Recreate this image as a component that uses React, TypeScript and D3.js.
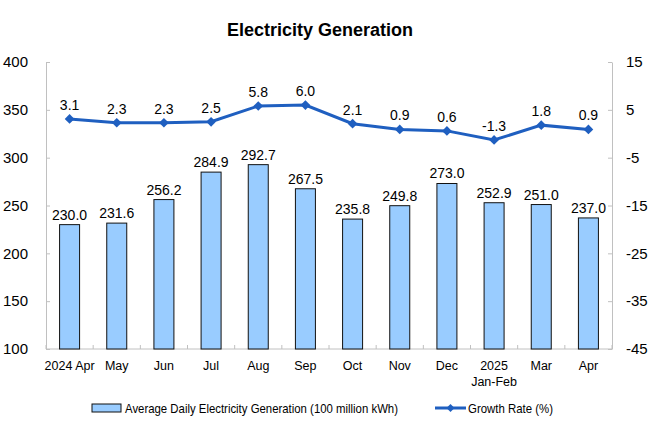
import { useEffect, useRef } from "react";
import * as d3 from "d3";

const categories = ["2024 Apr", "May", "Jun", "Jul", "Aug", "Sep", "Oct", "Nov", "Dec", "2025\nJan-Feb", "Mar", "Apr"];
const generation = [230.0, 231.6, 256.2, 284.9, 292.7, 267.5, 235.8, 249.8, 273.0, 252.9, 251.0, 237.0];
const growth = [3.1, 2.3, 2.3, 2.5, 5.8, 6.0, 2.1, 0.9, 0.6, -1.3, 1.8, 0.9];
const leftTicks = [100, 150, 200, 250, 300, 350, 400];
const rightTicks = [-45, -35, -25, -15, -5, 5, 15];

const FONT = "Arial, 'Liberation Sans', sans-serif";
const LINE_COLOR = "#1f5fc0";
const BAR_FILL = "#99ccff";
const AXIS_COLOR = "#c0c0c0";

export default function App() {
  const svgRef = useRef<SVGSVGElement>(null);

  useEffect(() => {
    if (!svgRef.current) return;
    const svg = d3.select(svgRef.current);
    svg.selectAll("*").remove();

    const left = 46;
    const right = 612;
    const top = 62;
    const bottom = 349;

    const x = d3.scaleBand().domain(categories).range([left, right]).paddingInner(0).paddingOuter(0);
    const yL = d3.scaleLinear().domain([100, 400]).range([bottom, top]);
    const yR = d3.scaleLinear().domain([-45, 15]).range([bottom, top]);
    const cx = (i: number) => x(categories[i])! + x.bandwidth() / 2;

    svg.append("rect").attr("width", 660).attr("height", 440).attr("fill", "white");

    // Title
    svg.append("text")
      .attr("x", 320)
      .attr("y", 36)
      .attr("text-anchor", "middle")
      .attr("font-family", FONT)
      .attr("font-weight", "bold")
      .attr("font-size", 18)
      .text("Electricity Generation");

    // Left axis (ticks point inward)
    const gl = svg.append("g")
      .attr("transform", `translate(${left},0)`)
      .call(d3.axisLeft(yL).tickValues(leftTicks).tickSizeInner(-4).tickSizeOuter(0).tickPadding(18).tickFormat((d) => String(d)));
    gl.selectAll("path, line").attr("stroke", AXIS_COLOR);
    gl.selectAll("text").attr("font-family", FONT).attr("font-size", 15).attr("fill", "#000");

    // Right axis
    const gr = svg.append("g")
      .attr("transform", `translate(${right},0)`)
      .call(d3.axisRight(yR).tickValues(rightTicks).tickSizeInner(-4).tickSizeOuter(0).tickPadding(14).tickFormat((d) => String(d)));
    gr.selectAll("path, line").attr("stroke", AXIS_COLOR);
    gr.selectAll("text").attr("font-family", FONT).attr("font-size", 15).attr("fill", "#000");

    // Bottom axis line and category ticks
    svg.append("line")
      .attr("x1", left).attr("x2", right)
      .attr("y1", bottom).attr("y2", bottom)
      .attr("stroke", AXIS_COLOR);
    const bounds = categories.map((c) => x(c)!).concat([right]);
    svg.selectAll("line.ctick")
      .data(bounds)
      .enter()
      .append("line")
      .attr("class", "ctick")
      .attr("x1", (d) => d).attr("x2", (d) => d)
      .attr("y1", bottom - 4).attr("y2", bottom)
      .attr("stroke", AXIS_COLOR);

    // Category labels
    categories.forEach((c, i) => {
      const lines = c.split("\n");
      const t = svg.append("text")
        .attr("x", cx(i))
        .attr("y", 370)
        .attr("text-anchor", "middle")
        .attr("font-family", FONT)
        .attr("font-size", 12.5);
      lines.forEach((l, k) => {
        t.append("tspan")
          .attr("x", cx(i))
          .attr("dy", k === 0 ? 0 : 16)
          .text(l);
      });
    });

    const barW = 20;
    // Bars
    svg.selectAll("rect.bar")
      .data(generation)
      .enter()
      .append("rect")
      .attr("class", "bar")
      .attr("x", (_, i) => cx(i) - barW / 2)
      .attr("y", (d) => yL(d))
      .attr("width", barW)
      .attr("height", (d) => yL(100) - yL(d))
      .attr("fill", BAR_FILL)
      .attr("stroke", "#111")
      .attr("stroke-width", 1);

    svg.selectAll("text.barlabel")
      .data(generation)
      .enter()
      .append("text")
      .attr("class", "barlabel")
      .attr("x", (_, i) => cx(i))
      .attr("y", (d) => yL(d) - 5)
      .attr("text-anchor", "middle")
      .attr("font-family", FONT)
      .attr("font-size", 14)
      .text((d) => d.toFixed(1));

    // Growth line
    const line = d3.line<number>()
      .x((_, i) => cx(i))
      .y((d) => yR(d));
    svg.append("path")
      .datum(growth)
      .attr("fill", "none")
      .attr("stroke", LINE_COLOR)
      .attr("stroke-width", 3)
      .attr("d", line);

    const diamond = d3.symbol().type(d3.symbolDiamond2).size(60);
    svg.selectAll("path.pt")
      .data(growth)
      .enter()
      .append("path")
      .attr("class", "pt")
      .attr("d", diamond)
      .attr("transform", (d, i) => `translate(${cx(i)},${yR(d)})`)
      .attr("fill", LINE_COLOR);

    svg.selectAll("text.ptlabel")
      .data(growth)
      .enter()
      .append("text")
      .attr("class", "ptlabel")
      .attr("x", (_, i) => cx(i))
      .attr("y", (d) => yR(d) - 9)
      .attr("text-anchor", "middle")
      .attr("font-family", FONT)
      .attr("font-size", 14)
      .text((d) => d.toFixed(1));

    // Legend
    const ly = 408;
    svg.append("rect")
      .attr("x", 92).attr("y", ly - 4).attr("width", 29).attr("height", 8)
      .attr("fill", BAR_FILL).attr("stroke", "#111");
    svg.append("text")
      .attr("x", 125).attr("y", ly + 5)
      .attr("font-family", FONT).attr("font-size", 13)
      .attr("textLength", 273).attr("lengthAdjust", "spacingAndGlyphs")
      .text("Average Daily Electricity Generation (100 million kWh)");
    svg.append("line")
      .attr("x1", 435).attr("x2", 466).attr("y1", ly).attr("y2", ly)
      .attr("stroke", LINE_COLOR).attr("stroke-width", 3);
    svg.append("path")
      .attr("d", d3.symbol().type(d3.symbolDiamond2).size(40)!)
      .attr("transform", `translate(450.5,${ly})`)
      .attr("fill", LINE_COLOR);
    svg.append("text")
      .attr("x", 468).attr("y", ly + 5)
      .attr("font-family", FONT).attr("font-size", 13)
      .attr("textLength", 85).attr("lengthAdjust", "spacingAndGlyphs")
      .text("Growth Rate (%)");
  }, []);

  return (
    <svg
      ref={svgRef}
      width={660}
      height={440}
      style={{ position: "absolute", left: 0, top: 0 }}
    />
  );
}
